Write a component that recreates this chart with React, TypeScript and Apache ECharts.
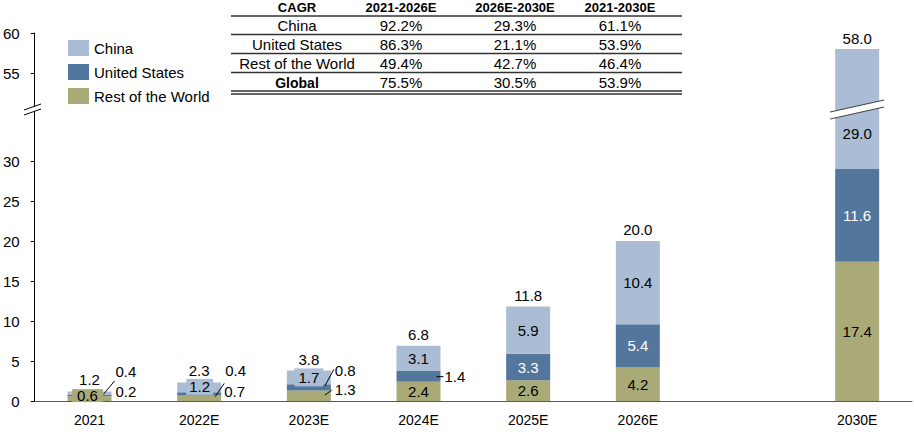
import React, { useEffect, useRef } from 'react';
import * as echarts from 'echarts';

// ---------- data ----------
const categories = ['2021', '2022E', '2023E', '2024E', '2025E', '2026E', '', '2030E'];
const chinaValues = [0.4, 1.2, 1.7, 3.1, 5.9, 10.4, null, 29.0];
const usValues = [0.2, 0.4, 0.8, 1.4, 3.3, 5.4, null, 11.6];
const rowValues = [0.6, 0.7, 1.3, 2.4, 2.6, 4.2, null, 17.4];
const totalValues = [1.2, 2.3, 3.8, 6.8, 11.8, 20.0, null, 58.0];
const lowerTicks = [0, 5, 10, 15, 20, 25, 30];
const upperTicks = [55, 60];

const cagrHeader = ['CAGR', '2021-2026E', '2026E-2030E', '2021-2030E'];
const cagrRegions = ['China', 'United States', 'Rest of the World', 'Global'];
const cagr2126 = ['92.2%', '86.3%', '49.4%', '75.5%'];
const cagr2630 = ['29.3%', '21.1%', '42.7%', '30.5%'];
const cagr2130 = ['61.1%', '53.9%', '46.4%', '53.9%'];

// ---------- style ----------
const CHINA = '#abbdd4';
const US = '#53779c';
const ROW = '#aaaa78';
const FONT = '"Liberation Sans", Arial, Helvetica, sans-serif';
const LBL = 15;

const GRID_LEFT = 32;
const GRID_RIGHT = 2;
const Y_ZERO = 401;
const Y_TOP = 33;
const BREAK_Y = 110;
const PX_PER_UNIT = 8;
const lowerMax = (Y_ZERO - BREAK_Y) / PX_PER_UNIT;
const upperMin = 60 - (BREAK_Y - Y_TOP) / PX_PER_UNIT;
const LAST = categories.length - 1;

const fmt = (p: any) => (p.value == null ? '' : Number(p.value).toFixed(1));

const rowLabelOverrides: Record<number, any> = {
  0: { position: 'inside', backgroundColor: ROW, padding: [0, 5], lineHeight: 13, offset: [-2, -3] },
  1: { position: 'right', distance: 3, offset: [0, -7] },
  2: { position: 'right', distance: 4, offset: [0, -6.5] },
};
const usLabelOverrides: Record<number, any> = {
  0: { position: 'right', distance: 4, offset: [0, -4.4], color: '#000' },
  1: { position: 'right', distance: 4, offset: [0, -23], color: '#000' },
  2: { position: 'right', distance: 4, offset: [0, -16.7], color: '#000' },
  3: { position: 'right', distance: 4, offset: [0, 0.5], color: '#000' },
};
const chinaLabelOverrides: Record<number, any> = {
  0: { position: 'right', distance: 4, offset: [0, -22] },
  1: { position: 'inside', backgroundColor: CHINA, padding: [1, 3], lineHeight: 14, offset: [0.5, -0.5] },
  2: { position: 'inside', backgroundColor: CHINA, padding: [2, 4], lineHeight: 14, offset: [0, 0] },
  7: { offset: [0, -6] },
};
const totalLabelOverrides: Record<number, any> = {
  1: { distance: 5 },
};

const toItems = (values: (number | null)[], overrides: Record<number, any>) =>
  values.map((v, i) => (v == null ? null : overrides[i] ? { value: v, label: overrides[i] } : { value: v }));

const onlyLast = (values: (number | null)[]) => values.map((v, i) => (i === LAST ? v : null));

const baseLabel = (color: string) => ({
  show: true,
  position: 'inside',
  color,
  fontSize: LBL,
  fontFamily: FONT,
  formatter: fmt,
});

const leaders = [
  { cat: 0, v1: 0.85, dx1: 14, v2: 2.5, dx2: 25 },
  { cat: 1, v1: 0.54, dx1: 16, v2: 2.2, dx2: 25 },
  { cat: 2, v1: 1.875, dx1: 16, v2: 3.96, dx2: 25 },
  { cat: 2, v1: 0.75, dx1: 16, v2: 1.375, dx2: 23 },
  { cat: 3, v1: 3.04, dx1: 18, v2: 3.04, dx2: 25 },
];

function buildOption(): any {
  const barCommon = { type: 'bar', barWidth: 44, clip: true, stackStrategy: 'all' };
  const lower = { xAxisIndex: 0, yAxisIndex: 0, stack: 'lo' };
  const upper = { xAxisIndex: 1, yAxisIndex: 1, stack: 'hi' };
  const totalStubs = totalValues.map((t, i) => (t == null || i === LAST ? null : 0));
  return {
    animation: false,
    textStyle: { fontFamily: FONT },
    legend: {
      data: ['China', 'United States', 'Rest of the World'],
      orient: 'vertical',
      left: 63,
      top: 35,
      itemWidth: 21,
      itemHeight: 16,
      itemGap: 8,
      icon: 'rect',
      textStyle: { fontSize: 15, color: '#000', fontFamily: FONT },
    },
    grid: [
      { left: GRID_LEFT, right: GRID_RIGHT, top: BREAK_Y, bottom: 434 - Y_ZERO },
      { left: GRID_LEFT, right: GRID_RIGHT, top: Y_TOP, height: BREAK_Y - Y_TOP },
    ],
    xAxis: [
      {
        type: 'category',
        gridIndex: 0,
        data: categories,
        axisLine: { lineStyle: { color: '#595959', width: 1 } },
        axisTick: { show: false },
        axisLabel: { color: '#000', fontSize: 14, fontFamily: FONT, margin: 12, interval: 0 },
      },
      { type: 'category', gridIndex: 1, data: categories, show: false },
    ],
    yAxis: [
      {
        type: 'value',
        gridIndex: 0,
        min: 0,
        max: lowerMax,
        splitLine: { show: false },
        axisLine: { show: true, lineStyle: { color: '#000' } },
        axisTick: { show: true, length: 4, customValues: lowerTicks, lineStyle: { color: '#000' } },
        axisLabel: { customValues: lowerTicks, color: '#000', fontSize: 15, fontFamily: FONT, margin: 15 },
      },
      {
        type: 'value',
        gridIndex: 1,
        min: upperMin,
        max: 60,
        splitLine: { show: false },
        axisLine: { show: true, lineStyle: { color: '#000' } },
        axisTick: { show: true, length: 4, customValues: upperTicks, lineStyle: { color: '#000' } },
        axisLabel: { customValues: upperTicks, color: '#000', fontSize: 15, fontFamily: FONT, margin: 15 },
      },
    ],
    series: [
      {
        ...barCommon, ...lower, name: 'Rest of the World', itemStyle: { color: ROW },
        label: baseLabel('#000'), data: toItems(rowValues, rowLabelOverrides),
      },
      {
        ...barCommon, ...lower, name: 'United States', itemStyle: { color: US },
        label: baseLabel('#fff'), data: toItems(usValues, usLabelOverrides),
      },
      {
        ...barCommon, ...lower, name: 'China', itemStyle: { color: CHINA },
        label: baseLabel('#000'), data: toItems(chinaValues, chinaLabelOverrides),
      },
      {
        ...barCommon, ...lower, name: 'Total', itemStyle: { color: 'rgba(0,0,0,0)' },
        label: {
          show: true, position: 'top', distance: 4, color: '#000', fontSize: LBL, fontFamily: FONT,
          formatter: (p: any) => (totalValues[p.dataIndex] == null ? '' : (totalValues[p.dataIndex] as number).toFixed(1)),
        },
        data: toItems(totalStubs, totalLabelOverrides),
      },
      { ...barCommon, ...upper, name: 'Rest of the World', itemStyle: { color: ROW }, data: onlyLast(rowValues) },
      { ...barCommon, ...upper, name: 'United States', itemStyle: { color: US }, data: onlyLast(usValues) },
      { ...barCommon, ...upper, name: 'China', itemStyle: { color: CHINA }, data: onlyLast(chinaValues) },
      {
        ...barCommon, ...upper, name: 'Total', itemStyle: { color: 'rgba(0,0,0,0)' },
        label: {
          show: true, position: 'top', distance: 3, color: '#000', fontSize: LBL, fontFamily: FONT,
          formatter: (p: any) => (totalValues[p.dataIndex] as number).toFixed(1),
        },
        data: totalValues.map((t, i) => (i === LAST ? 0 : null)),
      },
    ],
  };
}

function tableGraphics(): any[] {
  const colX = [297, 401, 515, 620];
  const rowY = [7.5, 25.5, 44.5, 63.5, 82.5];
  const lineY = [16, 34.5, 53.5, 72.5, 91, 94];
  const els: any[] = [];
  const txt = (s: string, x: number, y: number, bold: boolean, size: number) => ({
    type: 'text',
    x,
    y,
    style: {
      text: s,
      fill: '#000',
      fontSize: size,
      fontFamily: FONT,
      fontWeight: bold ? 'bold' : 'normal',
      align: 'center',
      verticalAlign: 'middle',
      textAlign: 'center',
      textVerticalAlign: 'middle',
    },
    z: 100,
  });
  cagrHeader.forEach((h, c) => els.push(txt(h, colX[c], rowY[0], true, 13)));
  cagrRegions.forEach((r, i) => {
    const bold = i === cagrRegions.length - 1;
    els.push(txt(r, colX[0], rowY[i + 1], bold, bold ? 14 : 15));
    els.push(txt(cagr2126[i], colX[1], rowY[i + 1], false, 15));
    els.push(txt(cagr2630[i], colX[2], rowY[i + 1], false, 15));
    els.push(txt(cagr2130[i], colX[3], rowY[i + 1], false, 15));
  });
  lineY.forEach((y) =>
    els.push({
      type: 'line',
      shape: { x1: 231, y1: y, x2: 682, y2: y },
      style: { stroke: '#333', lineWidth: 1.5 },
      z: 100,
    })
  );
  return els;
}

export default function App() {
  const ref = useRef<HTMLDivElement>(null);
  useEffect(() => {
    if (!ref.current) return;
    const chart = echarts.init(ref.current, null, { renderer: 'svg' });
    chart.setOption(buildOption());

    const els: any[] = tableGraphics();
    const px = (cat: number, v: number) => chart.convertToPixel({ gridIndex: 0 } as any, [cat, v]) as number[];

    // leader lines for small segment labels
    leaders.forEach((l) => {
      const a = px(l.cat, l.v1);
      const b = px(l.cat, l.v2);
      els.push({
        type: 'line',
        shape: { x1: a[0] + l.dx1, y1: a[1], x2: b[0] + l.dx2, y2: b[1] },
        style: { stroke: '#000', lineWidth: 1 },
        z: 100,
      });
    });

    // break on the 2030E bar
    const c = px(LAST, lowerMax);
    const bx = c[0];
    const by = c[1];
    els.push({
      type: 'polygon',
      shape: { points: [[bx - 27, by + 2], [bx + 27, by - 10], [bx + 27, by - 3], [bx - 27, by + 9]] },
      style: { fill: '#fff' },
      z: 100,
    });
    els.push({ type: 'line', shape: { x1: bx - 27, y1: by + 2, x2: bx + 27, y2: by - 10 }, style: { stroke: '#404040', lineWidth: 1 }, z: 101 });
    els.push({ type: 'line', shape: { x1: bx - 27, y1: by + 9, x2: bx + 27, y2: by - 3 }, style: { stroke: '#404040', lineWidth: 1 }, z: 101 });

    // break on the y axis
    const ax = GRID_LEFT;
    const ay = by;
    els.push({
      type: 'polygon',
      shape: { points: [[ax - 8, ay], [ax + 9, ay - 6], [ax + 9, ay - 1], [ax - 8, ay + 5]] },
      style: { fill: '#fff' },
      z: 100,
    });
    els.push({ type: 'line', shape: { x1: ax - 8, y1: ay, x2: ax + 9, y2: ay - 6 }, style: { stroke: '#000', lineWidth: 1 }, z: 101 });
    els.push({ type: 'line', shape: { x1: ax - 8, y1: ay + 5, x2: ax + 9, y2: ay - 1 }, style: { stroke: '#000', lineWidth: 1 }, z: 101 });

    chart.setOption({ graphic: els });
    return () => chart.dispose();
  }, []);
  return <div ref={ref} style={{ position: 'absolute', left: 0, top: 0, width: 914, height: 434 }} />;
}
